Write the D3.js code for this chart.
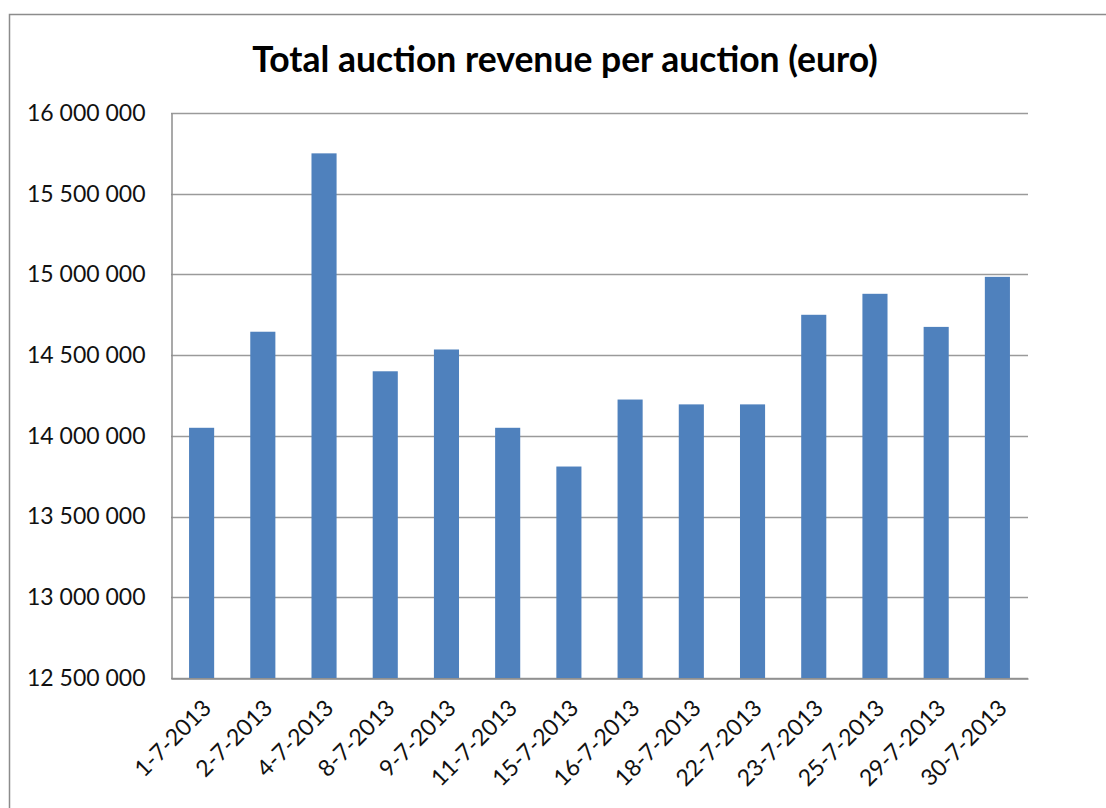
<!DOCTYPE html>
<html><head><meta charset="utf-8">
<script src="https://cdn.jsdelivr.net/npm/d3@7"></script>
<style>body{margin:0;background:#fff}svg{display:block}</style>
</head><body>
<svg id="c" width="1106" height="808"></svg>
<script>
const categories = ["1-7-2013","2-7-2013","4-7-2013","8-7-2013","9-7-2013","11-7-2013","15-7-2013","16-7-2013","18-7-2013","22-7-2013","23-7-2013","25-7-2013","29-7-2013","30-7-2013"];
const revenue = [14050000,14645000,15750000,14400000,14535000,14050000,13810000,14225000,14195000,14195000,14750000,14880000,14675000,14985000];
const yTicks = [12500000,13000000,13500000,14000000,14500000,15000000,15500000,16000000];
const title = "Total auction revenue per auction (euro)";

const svg = d3.select("#c");
const font = "Lato, 'Open Sans', sans-serif";
// outer border
svg.append("rect").attr("x",9.5).attr("y",14.5).attr("width",1120).attr("height",820)
  .attr("fill","none").attr("stroke","#8c8c8c").attr("stroke-width",1.5);

const L=171, R=1028, T=113, B=678;
const x = d3.scaleBand().domain(categories).range([L,R]).paddingInner(0.59).paddingOuter(0.295);
const y = d3.scaleLinear().domain([12500000,16000000]).range([B,T]);

const fmt = v => d3.format(",")(v).replace(/,/g," ");

// gridlines
svg.append("g").selectAll("line").data(yTicks).join("line")
  .attr("x1",L).attr("x2",R).attr("y1",d=>Math.round(y(d))+0.5).attr("y2",d=>Math.round(y(d))+0.5)
  .attr("stroke","#9a9a9a").attr("stroke-width",1.3);

// bars
svg.append("g").selectAll("rect").data(revenue).join("rect")
  .attr("x",(d,i)=>x(categories[i])).attr("width",x.bandwidth())
  .attr("y",d=>y(d)).attr("height",d=>B-y(d))
  .attr("fill","#4f81bd");

// y axis
const ya = svg.append("g").attr("transform",`translate(${L+0.5},0)`)
  .call(d3.axisLeft(y).tickValues(yTicks).tickFormat(fmt).tickSize(0).tickPadding(26));
ya.select(".domain").attr("stroke","#8c8c8c").attr("stroke-width",1.5);
ya.selectAll("text").attr("font-family",font).attr("font-size",23).attr("fill","#111");

// x axis
const xa = svg.append("g").attr("transform",`translate(0,${B+0.5})`)
  .call(d3.axisBottom(x).tickSize(0).tickPadding(0));
xa.select(".domain").attr("stroke","#8c8c8c").attr("stroke-width",1.5);
xa.selectAll("text").attr("font-family",font).attr("font-size",23).attr("fill","#111")
  .attr("text-anchor","end").attr("dy",null).attr("y",0)
  .attr("transform","translate(11,31) rotate(-45)");

// title
svg.append("text").attr("x",565).attr("y",72).attr("text-anchor","middle")
  .attr("font-family",font).attr("font-weight","bold").attr("font-size",35.5).text(title);
</script>
</body></html>
